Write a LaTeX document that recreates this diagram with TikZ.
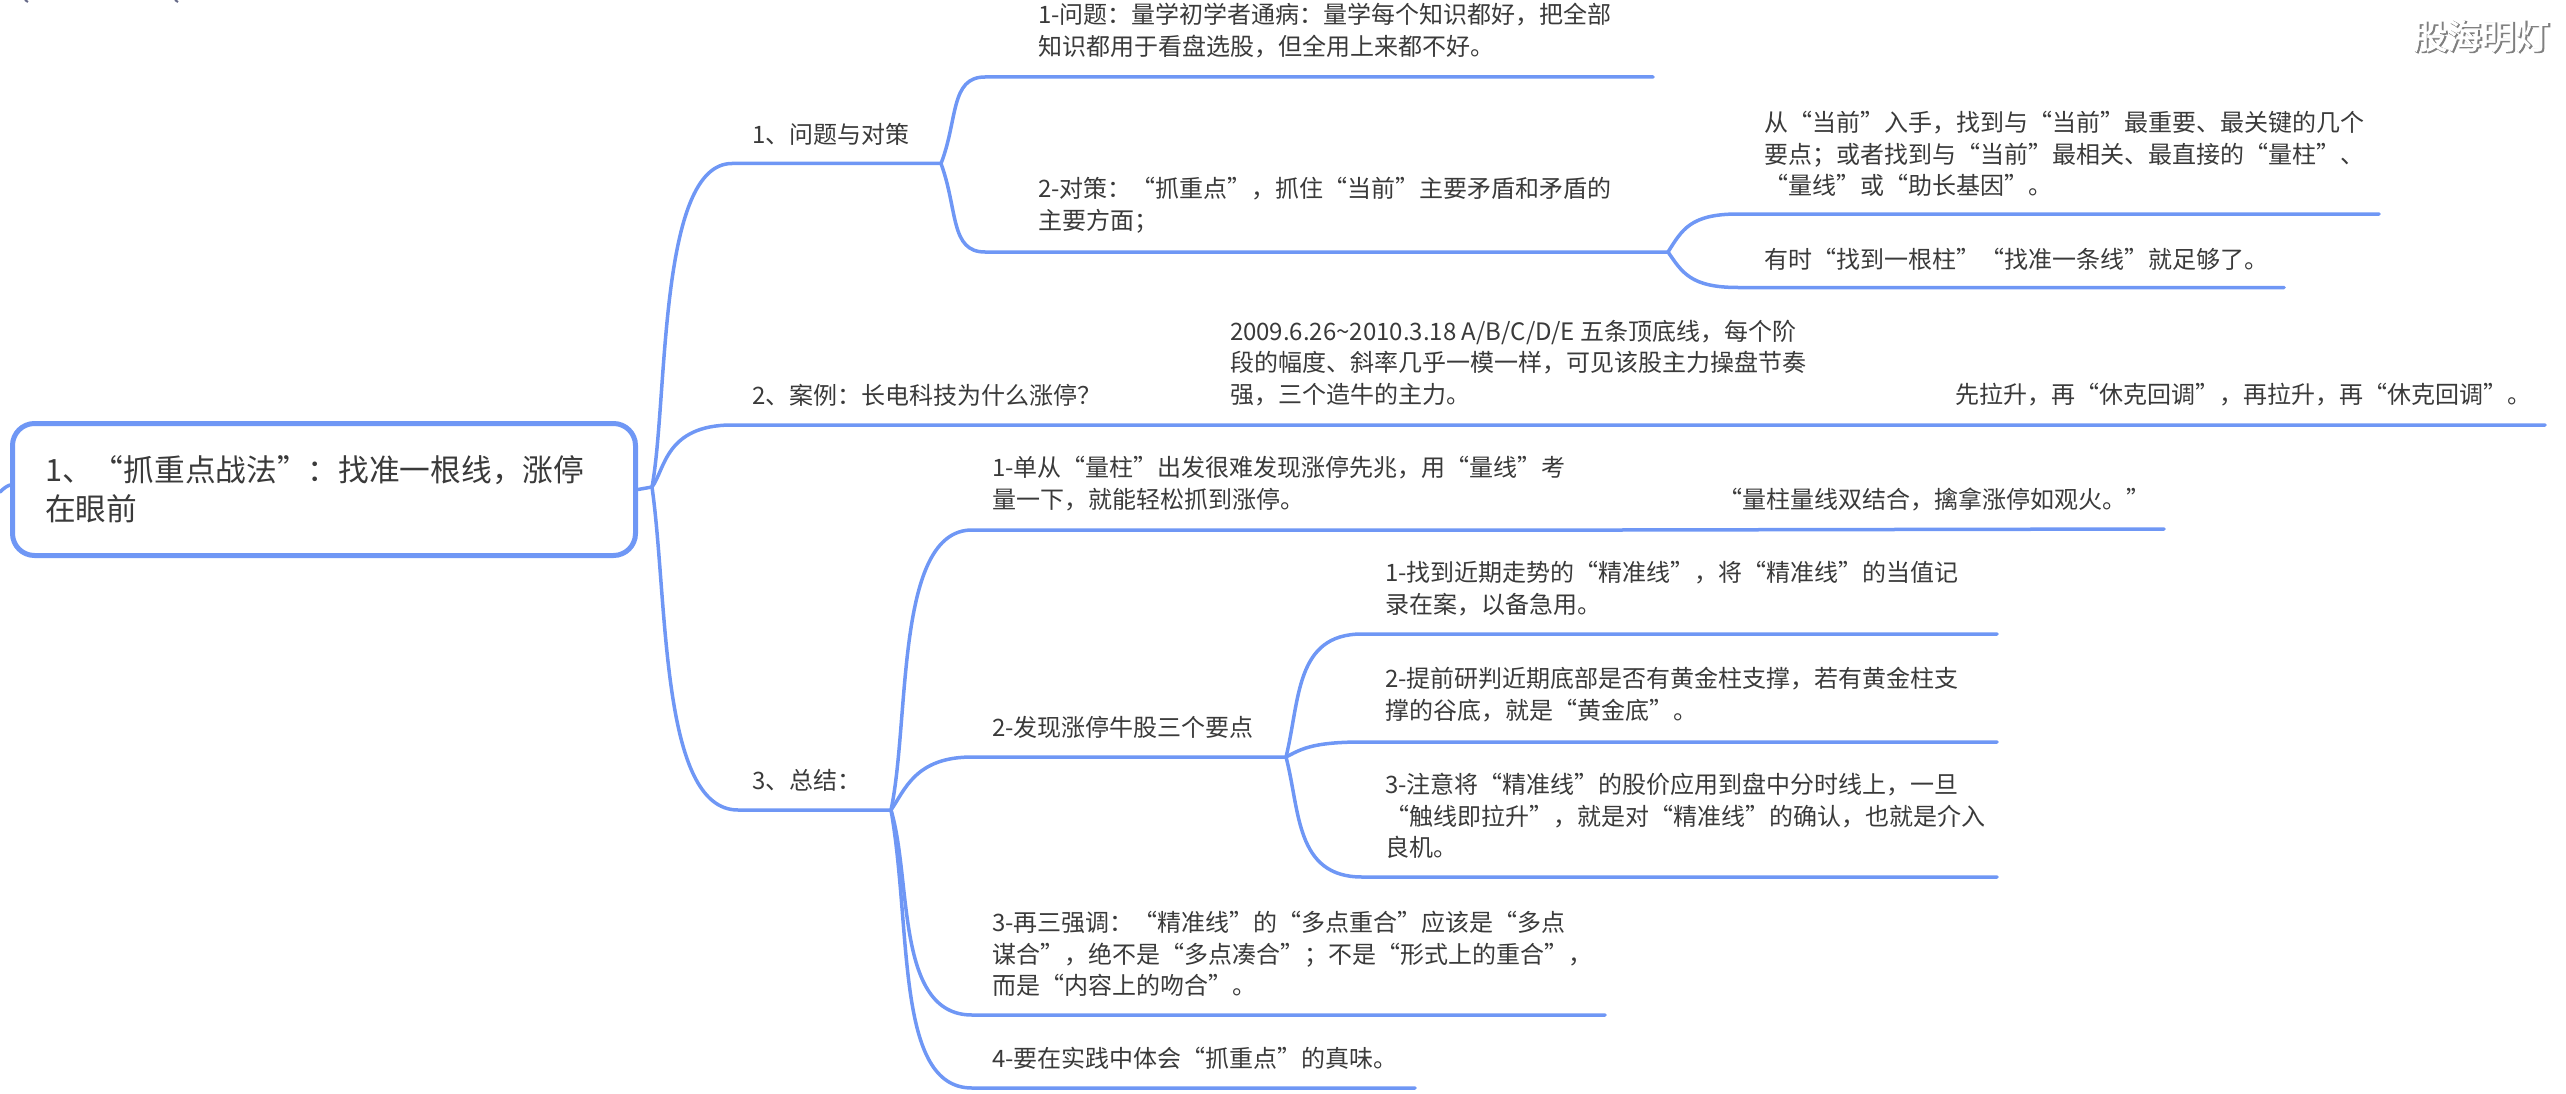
\documentclass[tikz,border=0pt]{standalone}
\usepackage{fontspec}
\setmainfont{Noto Sans CJK SC}
\newfontfamily\wmbase[FakeBold=5]{Noto Sans CJK SC}
\newfontfamily\wmtop[FakeBold=2]{Noto Sans CJK SC}
\definecolor{linkblue}{HTML}{6F97F5}
\definecolor{inkgrey}{HTML}{3A3A3A}
\definecolor{strayink}{HTML}{666A88}
\newcommand{\wmtext}{股海明灯}
\tikzset{
  x=1pt,y=-1pt,
  lnk/.style={draw=linkblue,line width=3.5pt,line cap=round},
  txt/.style={anchor=west,inner sep=0pt,outer sep=0pt,align=left,text=inkgrey,font=\fontsize{24}{31.6}\selectfont},
  rootbox/.style={draw=linkblue,line width=5pt,rounded corners=22pt,fill=white,minimum width=623pt,minimum height=132pt,anchor=north west,inner sep=0pt},
  roottxt/.style={anchor=west,inner sep=0pt,align=left,text=inkgrey,font=\fontsize{30.7}{39}\selectfont},
  wm/.style={anchor=west,inner sep=0pt}
}
\begin{document}
\begin{tikzpicture}
\useasboundingbox (0,0) rectangle (2566,1094);
% junctions and line ends
\coordinate (J0) at (652,487);
\coordinate (B1s) at (732,163.5); \coordinate (J1) at (941,163.5);
\coordinate (B2s) at (732,425);   \coordinate (B2e) at (2545,425);
\coordinate (B3s) at (738,810);   \coordinate (J3) at (891,810);
\coordinate (A1s) at (985,77);    \coordinate (A1e) at (1653,77);
\coordinate (A2s) at (985,252);   \coordinate (J2) at (1668,252);
\coordinate (P1s) at (1738,214);  \coordinate (P1e) at (2379,214);
\coordinate (P2s) at (1738,287.5);\coordinate (P2e) at (2284,287.5);
\coordinate (C1s) at (972,530);   \coordinate (C1m) at (1620,530); \coordinate (C1e) at (2164,529);
\coordinate (C2s) at (972,757);   \coordinate (J4) at (1286,757);
\coordinate (D1s) at (1362,634);  \coordinate (D1e) at (1997,634);
\coordinate (D2s) at (1362,742);  \coordinate (D2e) at (1997,742);
\coordinate (D3s) at (1362,877);  \coordinate (D3e) at (1997,877);
\coordinate (C3s) at (972,1015);  \coordinate (C3e) at (1605,1015);
\coordinate (C4s) at (972,1088);  \coordinate (C4e) at (1415,1088);
\coordinate (St0) at (0,492); \coordinate (St1) at (10,485);
\coordinate (Sa0) at (25,0); \coordinate (Sa1) at (28,2);
\coordinate (Sb0) at (175,0); \coordinate (Sb1) at (178,2);
% stray marks cut off by the top edge
\draw[draw=strayink,line width=2pt] (Sa0) -- (Sa1);
\draw[draw=strayink,line width=2pt] (Sb0) -- (Sb1);
% root
\draw[lnk] (St0) .. controls (4,488) and (7,486) .. (St1);
\node[rootbox] (root) at (10,421) {};
\draw[lnk] (root.east) -- (J0);
\node[roottxt] (rt) at (45,489) {1、“抓重点战法”：找准一根线，涨停\\在眼前};
% level 1
\draw[lnk] (J0) .. controls (668,400) and (658,163.5) .. (B1s) -- (J1);
\draw[lnk] (J0) .. controls (665,470) and (665,425) .. (B2s) -- (B2e);
\draw[lnk] (J0) .. controls (668,600) and (660,810) .. (B3s) -- (J3);
\node[txt] (t1) at (752,134) {1、问题与对策};
\node[txt] (t2) at (752,395) {2、案例：长电科技为什么涨停？};
\node[txt] (t3) at (752,780) {3、总结：};
% level 2 under 1
\draw[lnk] (J1) .. controls (958,120) and (950,77) .. (A1s) -- (A1e);
\draw[lnk] (J1) .. controls (958,210) and (950,252) .. (A2s) -- (J2);
\node[txt] (a1) at (1038,30.5) {1-问题：量学初学者通病：量学每个知识都好，把全部\\知识都用于看盘选股，但全用上来都不好。};
\node[txt] (a2) at (1038,205) {2-对策：“抓重点”，抓住“当前”主要矛盾和矛盾的\\主要方面；};
\draw[lnk] (J2) .. controls (1682,230) and (1690,214) .. (P1s) -- (P1e);
\draw[lnk] (J2) .. controls (1682,272) and (1690,287.5) .. (P2s) -- (P2e);
\node[txt] (p1) at (1764,154) {从“当前”入手，找到与“当前”最重要、最关键的几个\\要点；或者找到与“当前”最相关、最直接的“量柱”、\\“量线”或“助长基因”。};
\node[txt] (p2) at (1764,259) {有时“找到一根柱”“找准一条线”就足够了。};
% level 2 under 2
\node[txt] (b1) at (1230,363) {2009.6.26\char`~2010.3.18 A/B/C/D/E 五条顶底线，每个阶\\段的幅度、斜率几乎一模一样，可见该股主力操盘节奏\\强，三个造牛的主力。};
\node[txt] (b2) at (1955,395) {先拉升，再“休克回调”，再拉升，再“休克回调”。};
% level 2 under 3
\draw[lnk] (J3) .. controls (910,720) and (895,530) .. (C1s) -- (C1m) -- (C1e);
\draw[lnk] (J3) .. controls (905,790) and (915,757) .. (C2s) -- (J4);
\draw[lnk] (J3) .. controls (912,880) and (895,1015) .. (C3s) -- (C3e);
\draw[lnk] (J3) .. controls (912,930) and (895,1088) .. (C4s) -- (C4e);
\node[txt] (c1) at (992,483.5) {1-单从“量柱”出发很难发现涨停先兆，用“量线”考\\量一下，就能轻松抓到涨停。};
\node[txt] (c1b) at (1718,499) {“量柱量线双结合，擒拿涨停如观火。”};
\node[txt] (c2) at (992,727) {2-发现涨停牛股三个要点};
\node[txt] (c3) at (992,954) {3-再三强调：“精准线”的“多点重合”应该是“多点\\谋合”，绝不是“多点凑合”；不是“形式上的重合”，\\而是“内容上的吻合”。};
\node[txt] (c4) at (992,1058) {4-要在实践中体会“抓重点”的真味。};
% level 3
\draw[lnk] (J4) .. controls (1300,700) and (1295,634) .. (D1s) -- (D1e);
\draw[lnk] (J4) .. controls (1300,750) and (1310,742) .. (D2s) -- (D2e);
\draw[lnk] (J4) .. controls (1300,810) and (1295,877) .. (D3s) -- (D3e);
\node[txt] (d1) at (1385,588.5) {1-找到近期走势的“精准线”，将“精准线”的当值记\\录在案，以备急用。};
\node[txt] (d2) at (1385,694.5) {2-提前研判近期底部是否有黄金柱支撑，若有黄金柱支\\撑的谷底，就是“黄金底”。};
\node[txt] (d3) at (1385,816) {3-注意将“精准线”的股价应用到盘中分时线上，一旦\\“触线即拉升”，就是对“精准线”的确认，也就是介入\\良机。};
% watermark
\node[wm,text=black!50] (wms) at (2414.5,37) {\fontsize{34}{34}\selectfont\wmbase\wmtext};
\node[wm,text=white] (wmt) at (2413,36) {\fontsize{34}{34}\selectfont\wmtop\wmtext};
\end{tikzpicture}
\end{document}
